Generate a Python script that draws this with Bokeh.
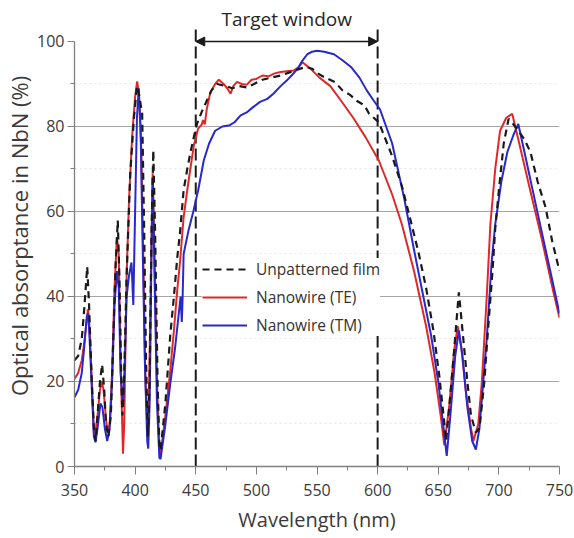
from bokeh.plotting import figure
from bokeh.models import Range1d, FixedTicker, Arrow, NormalHead, Label, Legend, LegendItem
from bokeh.embed import file_html
from bokeh.resources import INLINE

# ---------------- data ----------------
film_nm = [350, 353, 356, 358, 360.5, 362, 364, 366, 367.5, 369, 371, 372.8, 374.5, 376, 378, 380, 382, 384,
           385.7, 387, 388.5, 389.5, 391, 393, 396, 399, 401.5, 403, 405.8, 407.5, 409, 410.5, 412, 413.5, 415,
           416.5, 418.5, 420, 421, 425, 429, 432, 434.7, 437, 440, 443, 445.7, 448, 451, 455, 459, 463, 467.7,
           475, 480, 486, 492, 498, 505, 512, 520, 528, 535, 541, 546, 550, 556, 565, 571, 577, 583, 589, 593,
           601, 612, 620, 628, 634, 640, 646, 651, 654, 656.5, 660, 663, 667, 670, 674, 677, 681, 684, 688, 691,
           694.5, 697, 700, 704, 708, 712, 716, 721, 726, 732, 738.5, 744, 750]
film_abs = [25, 26, 30, 37, 47, 38, 22, 9, 6, 12, 20, 24, 18, 10, 7, 12, 30, 48,
            57.9, 45, 22, 12, 22, 45, 69, 82, 89.5, 88, 83, 55, 25, 7, 20, 55, 74.4,
            55, 20, 5, 3.8, 15, 31, 40, 49, 55, 65, 70, 74, 77, 80.6, 83.5, 86, 88.5, 90,
            89.5, 89, 89.5, 89.2, 90, 91, 91.5, 92, 92.8, 93.5, 94, 93.6, 92.6, 91.6, 90.4, 88.5, 87.5, 86, 85, 83,
            81, 73, 66, 57, 50, 42, 32, 21, 13, 6, 17, 27, 41, 32, 20, 12, 8, 9, 20, 32,
            45, 56, 65, 76, 81.8, 80.5, 79, 77, 74, 67, 61, 53, 46]

te_nm = [350, 353, 356, 358, 360, 361, 362, 364, 366, 367, 369, 371, 372.5, 374, 376, 377.5, 379, 381, 383,
         385, 386.5, 388, 390, 391, 393, 395, 397.6, 400, 401.7, 403, 405, 407, 408.5, 410, 411.5, 413, 414.5,
         416, 418, 420, 421, 425, 429, 432, 434.7, 437, 440, 443, 445, 448.4, 452, 455, 456, 457.5, 459, 462,
         466, 469, 473, 476, 478.7, 481, 484, 488, 492, 496, 500, 505, 510, 515, 520, 525, 531, 535, 538, 545,
         552, 561, 570, 580, 590, 601, 612, 620, 630, 640, 647, 652, 655, 659, 663, 666, 669, 673, 677, 679,
         683, 686, 690, 693, 697, 701, 706, 711, 716, 725, 735, 745, 750]
te_abs = [20.6, 22, 25, 29, 34, 37, 35, 22, 8, 7.5, 12, 18, 20, 18, 11, 8, 10, 22, 42,
          54, 50, 25, 3, 10, 45, 63, 78, 87, 90.6, 88, 75, 45, 20, 10, 18, 45, 69,
          50, 20, 4, 3, 12, 22.6, 32, 41.4, 48, 58.7, 65, 69, 75.5, 79.5, 80.5, 81.5, 80.5, 84, 88,
          90, 91, 90, 89, 87.7, 89.5, 90.5, 90, 89.8, 91, 91.2, 92, 91.8, 92.5, 92.8, 93, 93.2, 94, 95.1, 93.5,
          91.5, 89.5, 86, 82, 77.5, 72, 64, 57, 46, 33, 22, 12, 5, 14, 27, 33, 28, 17, 9, 6,
          10, 20, 40, 57, 70, 79, 82, 83, 77, 66, 54, 41, 35]

tm_nm = [350, 353, 356, 358, 360, 361, 362, 364, 366, 367.3, 369, 371.4, 373, 375, 377, 379, 381, 383, 385,
         386.5, 388, 390, 391.5, 393, 395, 397, 398.5, 400, 401.5, 403, 404.5, 406, 408, 410, 410.8, 412, 413.5,
         414.5, 416, 418, 420, 421, 425, 429, 433, 436, 437.5, 438.5, 439.2, 440, 444, 448, 452, 456.6, 461,
         466, 472, 478, 482, 487, 492, 497, 503, 509, 514, 520, 525, 530, 534, 538, 542, 546, 550, 556, 564,
         571, 578, 585, 591, 597, 602, 612, 622, 630, 637, 644, 650, 654, 657, 660, 664, 667, 670, 674, 678,
         681, 684, 690, 694, 697, 702, 707, 712, 716, 720, 730, 740, 750]
tm_abs = [16.3, 18, 22, 28, 35, 36, 33, 20, 7, 5.7, 9, 14.8, 14, 9, 6, 9, 20, 38, 46,
          42, 22, 14, 25, 40, 45, 48, 38, 60, 82, 89, 80, 55, 25, 6, 4.2, 15, 50,
          68, 45, 15, 2, 1.8, 10, 19.5, 28, 36, 40, 34, 40, 50, 55.5, 60, 65, 72, 76,
          79, 80, 80.3, 81, 82.6, 83.3, 84.5, 85.8, 86.5, 87.7, 89.5, 90.8, 92.3, 93.6, 95.5, 97, 97.6, 97.8, 97.6, 97,
          95.6, 94, 91.5, 88.5, 86, 84, 76, 63, 51, 41, 31, 20, 10, 2.5, 12, 26, 32, 26, 14, 6,
          4, 9, 30, 48, 57, 67, 74, 78, 80.6, 75.4, 62.2, 49.1, 36]

series_names = ["Unpatterned film", "Nanowire (TE)", "Nanowire (TM)"]
x_ticks = [350, 400, 450, 500, 550, 600, 650, 700, 750]
x_minor = [375, 425, 475, 525, 575, 625, 675, 725]
y_ticks = [0, 20, 40, 60, 80, 100]
y_minor = [10, 30, 50, 70, 90]
grid_ticks = [20, 40, 60, 80]
target_nm = [450, 600]
target_level = 100
target_label = "Target window"

FONT = "Open Sans"
TXT = "#3a3a3a"
AX = "#808080"

p = figure(width=574, height=538, x_range=Range1d(350, 750), y_range=Range1d(0, 108.47),
           output_backend="svg", toolbar_location=None,
           min_border_left=74, min_border_right=15, min_border_top=5, min_border_bottom=72)
p.outline_line_color = None
p.background_fill_color = "white"

# axes
for ax in (p.xaxis[0], p.yaxis[0]):
    ax.axis_line_color = AX
    ax.axis_line_width = 1.3
    ax.major_tick_line_color = AX
    ax.minor_tick_line_color = AX
    ax.major_tick_in = 0
    ax.minor_tick_in = 0
    ax.major_label_text_font = FONT
    ax.major_label_text_font_size = "16px"
    ax.major_label_text_color = TXT
    ax.axis_label_text_font = FONT
    ax.axis_label_text_font_style = "normal"
    ax.axis_label_text_color = TXT

p.xaxis.ticker = FixedTicker(ticks=x_ticks, minor_ticks=x_minor)
p.xaxis.major_tick_out = 8
p.xaxis.minor_tick_out = 4
p.xaxis.major_label_standoff = 9
p.xaxis.axis_label = "Wavelength (nm)"
p.xaxis.axis_label_text_font_size = "20px"
p.xaxis.axis_label_standoff = 7

p.yaxis.ticker = FixedTicker(ticks=y_ticks, minor_ticks=y_minor)
p.yaxis.bounds = (0, 100)
p.yaxis.major_tick_out = 7
p.yaxis.minor_tick_out = 4
p.yaxis.major_label_standoff = 3
p.yaxis.axis_label = "Optical absorptance in NbN (%)"
p.yaxis.axis_label_text_font_size = "22px"
p.yaxis.axis_label_standoff = 0

p.xgrid.visible = False
p.ygrid.ticker = FixedTicker(ticks=grid_ticks, minor_ticks=y_minor)
p.ygrid.grid_line_color = "#a6a6a6"
p.ygrid.grid_line_width = 1
p.ygrid.minor_grid_line_color = "#e6e6e6"
p.ygrid.minor_grid_line_dash = "2 3"

# target window markers
p.segment(x0=target_nm, y0=[0, 0], x1=target_nm, y1=[103.2, 103.2],
          line_color="#1a1a1a", line_width=2, line_dash="12 5")
p.add_layout(Arrow(x_start=target_nm[0], y_start=target_level, x_end=target_nm[1], y_end=target_level,
                   line_color="#1a1a1a", line_width=1.5,
                   start=NormalHead(size=9, fill_color="#1a1a1a", line_color="#1a1a1a"),
                   end=NormalHead(size=9, fill_color="#1a1a1a", line_color="#1a1a1a")))
p.add_layout(Label(x=(target_nm[0] + target_nm[1]) / 2, y=105.4, text=target_label,
                   text_align="center", text_baseline="middle", text_font=FONT,
                   text_font_size="19px", text_color="#262626"))

# curves
r_te = p.line(te_nm, te_abs, line_color="#e02828", line_width=2)
r_tm = p.line(tm_nm, tm_abs, line_color="#2828cc", line_width=2)
r_film = p.line(film_nm, film_abs, line_color="#1a1a1a", line_width=2.2, line_dash="7 5")

legend = Legend(items=[LegendItem(label=series_names[0], renderers=[r_film]),
                       LegendItem(label=series_names[1], renderers=[r_te]),
                       LegendItem(label=series_names[2], renderers=[r_tm])],
                location=(128, 130), padding=6, margin=0, spacing=6,
                glyph_width=45, glyph_height=20, label_height=20, label_standoff=9,
                label_text_font=FONT, label_text_font_size="15.5px", label_text_color="#333333",
                border_line_color=None, background_fill_color="white", background_fill_alpha=1.0)
p.add_layout(legend)

open("out.html", "w").write(file_html(p, INLINE))
